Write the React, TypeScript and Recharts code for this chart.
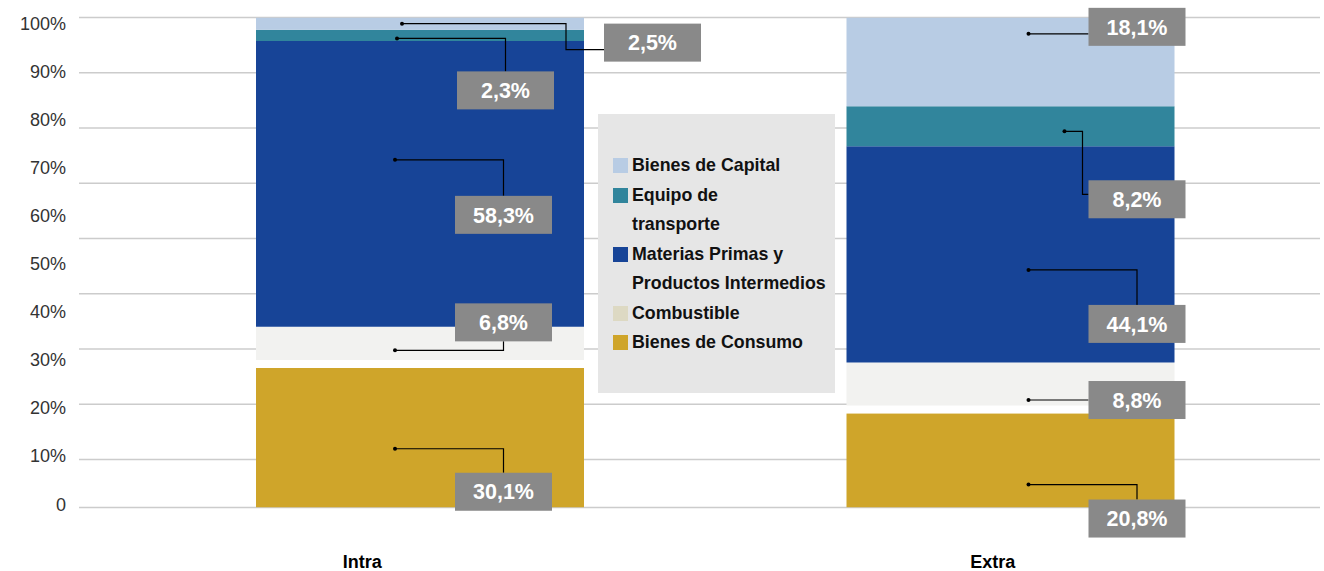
import React from "react"
import { BarChart, Bar, XAxis, YAxis, CartesianGrid, Legend } from "recharts"

document.body.style.margin = "0"

const CATEGORIES = ["Intra", "Extra"]
const CONSUMO = [30.1, 20.8]
const COMBUSTIBLE = [6.8, 8.8]
const MATERIAS = [58.3, 44.1]
const EQUIPO = [2.3, 8.2]
const CAPITAL = [2.5, 18.1]

const Y_TICKS = [0, 10, 20, 30, 40, 50, 60, 70, 80, 90, 100]
// the original's gridlines don't follow its labels: 9 even steps from the top + baseline
const GRID_TICKS = [0, 1, 2, 3, 4, 5, 6, 7, 8, 8.87]

const FONT = "'Liberation Sans', Arial, sans-serif"

const SERIES = [
  { key: "consumo", name: "Bienes de Consumo", lines: ["Bienes de Consumo"], color: "#cfa52a", swatch: "#cfa52a", values: CONSUMO },
  { key: "combustible", name: "Combustible", lines: ["Combustible"], color: "#f2f2f0", swatch: "#ddd9c3", values: COMBUSTIBLE },
  { key: "materias", name: "Materias Primas y Productos Intermedios", lines: ["Materias Primas y", "Productos Intermedios"], color: "#174497", swatch: "#174497", values: MATERIAS },
  { key: "equipo", name: "Equipo de transporte", lines: ["Equipo de", "transporte"], color: "#31859c", swatch: "#31859c", values: EQUIPO },
  { key: "capital", name: "Bienes de Capital", lines: ["Bienes de Capital"], color: "#b8cce4", swatch: "#b8cce4", values: CAPITAL },
]

const data = CATEGORIES.map((cat, i) => {
  const row: Record<string, string | number> = { cat }
  for (const s of SERIES) row[s.key] = s.values[i]
  return row
})

// callout placement, relative to bar left edge and the segment's vertical centre
type Callout = { dot: [number, number]; box: [number, number]; step?: [number, number] }
const CALLOUTS: Record<string, Callout[]> = {
  consumo: [{ dot: [139, 15], box: [247.5, 58] }, { dot: [182, 28], box: [290.5, 62] }],
  combustible: [{ dot: [139, 7], box: [247.5, -21] }, { dot: [182, 16], box: [290.5, 16] }],
  materias: [{ dot: [139, -24], box: [247.5, 31] }, { dot: [182, 15.5], box: [290.5, 69.5] }],
  equipo: [{ dot: [141, 3], box: [249.5, 55] }, { dot: [218, 5], box: [290.5, 73], step: [236, 68] }],
  capital: [{ dot: [146, 0], box: [396.5, 19], step: [310, 26] }, { dot: [182, -28], box: [290.5, -35] }],
}
const BOX_W = 97
const BOX_H = 38
const TICK_NUDGE = [-58, -18]
const GOLD_GAP = 8

const fmt = (v: number) => v.toFixed(1).replace(".", ",") + "%"

// all callouts are drawn from the top segment so they sit above every bar
function Callouts(props: any) {
  const vb = props.viewBox ?? props
  const x = props.x ?? vb.x
  const y = props.y ?? vb.y
  const h = props.height ?? vb.height
  const idx = props.index ?? 0
  const ppu = h / CAPITAL[idx]
  const yOf = (v: number) => y + (100 - v) * ppu
  let cum = 0
  const out: React.ReactNode[] = []
  for (const s of SERIES) {
    const v = s.values[idx]
    const cy = (yOf(cum) + yOf(cum + v)) / 2
    cum += v
    const c = CALLOUTS[s.key][idx]
    const dx = x + c.dot[0]
    const dy = cy + c.dot[1]
    const bx = x + c.box[0]
    const by = cy + c.box[1]
    const top = by - BOX_H / 2
    const bottom = by + BOX_H / 2
    const left = bx - BOX_W / 2
    let d: string
    if (c.step) {
      d = `M${dx},${dy}H${x + c.step[0]}V${cy + c.step[1]}H${left}`
    } else if (dy >= top && dy <= bottom) {
      d = `M${dx},${dy}H${left}`
    } else {
      d = `M${dx},${dy}H${bx}V${dy < top ? top : bottom}`
    }
    out.push(
      <g key={s.key}>
        <path d={d} fill="none" stroke="#000" strokeWidth={1.2} />
        <circle cx={dx} cy={dy} r={2} fill="#000" />
        <rect x={left} y={top} width={BOX_W} height={BOX_H} fill="#898989" />
        <text x={bx} y={by} dy="0.36em" textAnchor="middle" fill="#fff" fontFamily={FONT} fontWeight="bold" fontSize={21.5}>
          {fmt(v)}
        </text>
      </g>
    )
  }
  return <g>{out}</g>
}

function CatTick({ x, y, payload }: any) {
  const i = CATEGORIES.indexOf(payload.value)
  return (
    <text x={x + (TICK_NUDGE[i] ?? 0)} y={y + 54} dy="0.36em" textAnchor="middle" fontFamily={FONT} fontWeight="bold" fontSize={18} fill="#000">
      {payload.value}
    </text>
  )
}

function GoldShape(p: any) {
  return <rect x={p.x} y={p.y + GOLD_GAP} width={p.width} height={Math.max(0, p.height - GOLD_GAP)} fill={p.fill} />
}

function LegendBox() {
  return (
    <div style={{ width: 237, height: 279, background: "#e6e6e6", boxSizing: "border-box", paddingTop: 37, fontFamily: FONT, fontWeight: "bold", fontSize: 17.8, color: "#111" }}>
      {[...SERIES].reverse().map((s) =>
        s.lines.map((ln, j) => (
          <div key={s.key + j} style={{ position: "relative", height: 29.5, lineHeight: "29.5px", paddingLeft: 34, whiteSpace: "nowrap" }}>
            {j === 0 && <span style={{ position: "absolute", left: 15, top: 7, width: 15, height: 15, background: s.swatch }} />}
            {ln}
          </div>
        ))
      )}
    </div>
  )
}

export default function App() {
  return (
    <BarChart width={1324} height={571} data={data} margin={{ top: 17.5, right: 4, bottom: 3.5, left: 0 }}>
      <YAxis
        yAxisId="lbl"
        domain={[-0.7, 101.3]}
        ticks={Y_TICKS}
        type="number"
        allowDataOverflow
        interval={0}
        width={79}
        tickSize={0}
        tickMargin={13}
        axisLine={false}
        tickLine={false}
        tickFormatter={(v) => (v === 0 ? "0" : `${v}%`)}
        tick={{ fontSize: 18, fill: "#333", fontFamily: FONT }}
      />
      <YAxis yAxisId="grid" hide width={0} domain={[0, 8.87]} ticks={GRID_TICKS} reversed type="number" allowDataOverflow />
      <YAxis yAxisId="val" hide width={0} domain={[0, 100]} type="number" allowDataOverflow />
      <CartesianGrid yAxisId="grid" vertical={false} stroke="#cccccc" strokeWidth={1.5} />
      <XAxis dataKey="cat" height={60} padding={{ left: 46, right: 14 }} axisLine={false} tickLine={false} tickSize={0} tickMargin={0} tick={<CatTick />} />
      <Legend
        layout="vertical"
        align="center"
        verticalAlign="middle"
        content={() => <LegendBox />}
        wrapperStyle={{ left: 598, top: 114, width: 237, height: 279 }}
      />
      {SERIES.map((s) => (
        <Bar
          key={s.key}
          dataKey={s.key}
          name={s.name}
          yAxisId="val"
          stackId="a"
          barSize={328}
          fill={s.color}
          isAnimationActive={false}
          shape={s.key === "consumo" ? (p: any) => <GoldShape {...p} /> : undefined}
          label={s.key === "capital" ? (p: any) => <Callouts {...p} /> : undefined}
        />
      ))}
    </BarChart>
  )
}
